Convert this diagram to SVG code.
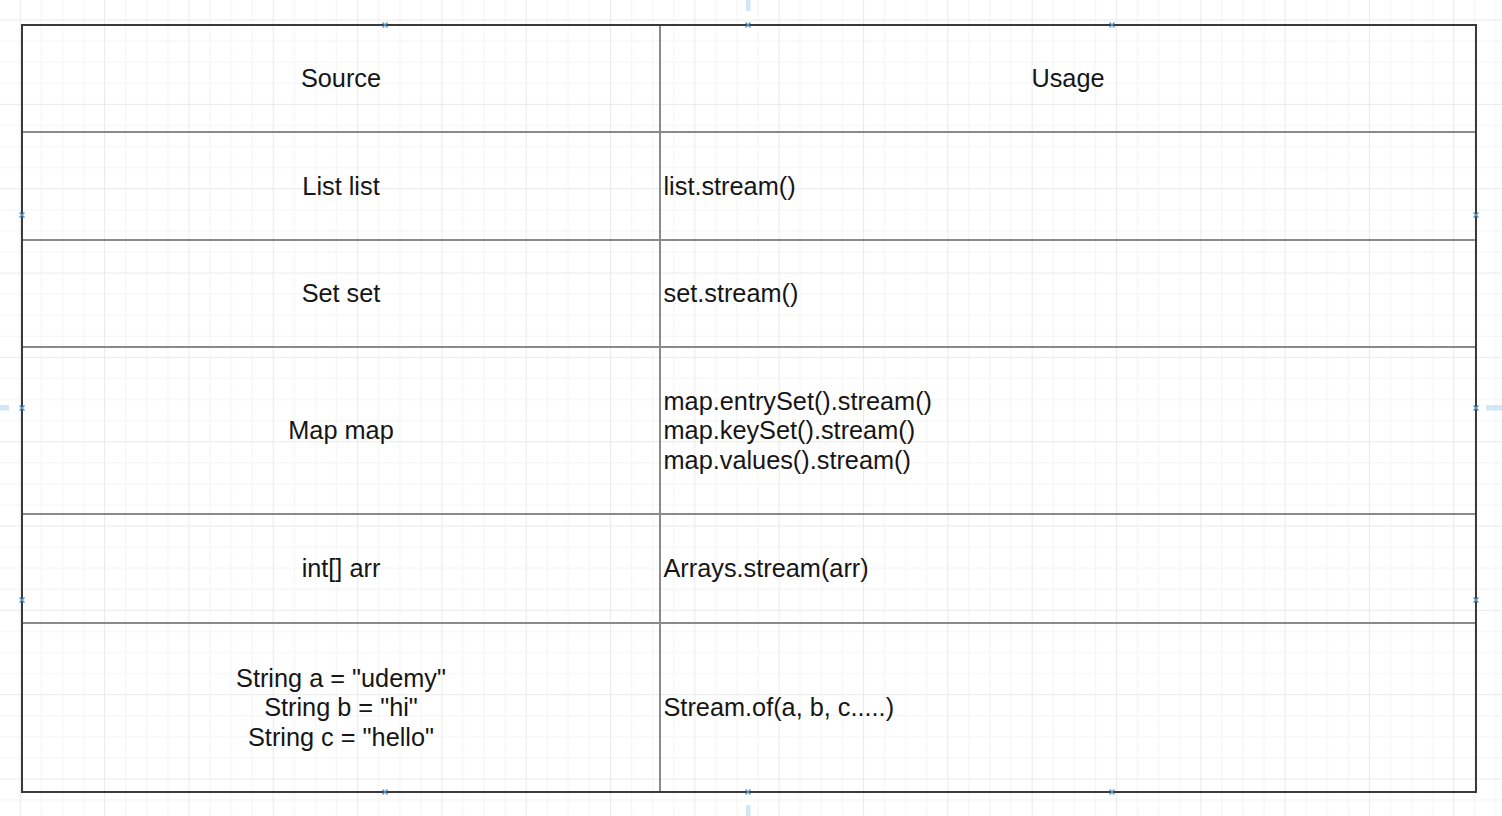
<svg xmlns="http://www.w3.org/2000/svg" width="1502" height="816" viewBox="0 0 1502 816">
  <style>
    .t { font-family: "Liberation Sans", Arial, sans-serif; font-size: 25.3px; fill: #161616; }
    .c { text-anchor: middle; }
    .inner { stroke: #8a8a8a; stroke-width: 2; fill: none; }
    .outer { stroke: #3a3a3a; stroke-width: 2; fill: none; }
    .mk { stroke: #4f93cc; stroke-width: 1.3; fill: none; }
    .guide { fill: #d3e8f6; }
  </style>
  <defs>
    <pattern id="grid" patternUnits="userSpaceOnUse" x="19.8" y="19.6" width="84.32" height="84.32">
      <rect x="0" y="0" width="84.32" height="84.32" fill="#ffffff"/>
      <g fill="#f4f4f4">
        <rect x="21.08" y="0" width="1" height="84.32"/>
        <rect x="42.16" y="0" width="1" height="84.32"/>
        <rect x="63.24" y="0" width="1" height="84.32"/>
        <rect x="0" y="21.08" width="84.32" height="1"/>
        <rect x="0" y="42.16" width="84.32" height="1"/>
        <rect x="0" y="63.24" width="84.32" height="1"/>
      </g>
      <g fill="#eaeaea">
        <rect x="0" y="0" width="1" height="84.32"/>
        <rect x="0" y="0" width="84.32" height="1"/>
      </g>
    </pattern>
  </defs>

  <rect x="0" y="0" width="1502" height="816" fill="url(#grid)"/>

  <!-- guide handles -->
  <g id="guides">
    <rect class="guide" x="746" y="0" width="4.5" height="11"/>
    <rect class="guide" x="746" y="805" width="4.5" height="11"/>
    <rect class="guide" x="0" y="405" width="9" height="5.5"/>
    <rect class="guide" x="1486" y="405" width="16" height="5.5"/>
  </g>

  <!-- table cells -->
  <g id="header-source"><text class="t c" x="341" y="87.2">Source</text></g>
  <g id="header-usage"><text class="t c" x="1068" y="87.2">Usage</text></g>

  <g id="row-list-source"><text class="t c" x="341" y="194.8">List list</text></g>
  <g id="row-list-usage"><text class="t" x="663.5" y="194.8">list.stream()</text></g>

  <g id="row-set-source"><text class="t c" x="341" y="302.2">Set set</text></g>
  <g id="row-set-usage"><text class="t" x="663.5" y="302.2">set.stream()</text></g>

  <g id="row-map-source"><text class="t c" x="341" y="439.2">Map map</text></g>
  <g id="row-map-usage">
    <text class="t" x="663.5" y="409.6">map.entrySet().stream()</text>
    <text class="t" x="663.5" y="439.3">map.keySet().stream()</text>
    <text class="t" x="663.5" y="469">map.values().stream()</text>
  </g>

  <g id="row-arr-source"><text class="t c" x="341" y="577.1">int[] arr</text></g>
  <g id="row-arr-usage"><text class="t" x="663.5" y="577.1">Arrays.stream(arr)</text></g>

  <g id="row-string-source">
    <text class="t c" x="341" y="686.7">String a = "udemy"</text>
    <text class="t c" x="341" y="716.2">String b = "hi"</text>
    <text class="t c" x="341" y="745.7">String c = "hello"</text>
  </g>
  <g id="row-string-usage"><text class="t" x="663.5" y="716">Stream.of(a, b, c.....)</text></g>

  <!-- grid lines of the table -->
  <g id="table-lines">
    <line class="inner" x1="22" y1="132" x2="1476" y2="132"/>
    <line class="inner" x1="22" y1="240" x2="1476" y2="240"/>
    <line class="inner" x1="22" y1="347" x2="1476" y2="347"/>
    <line class="inner" x1="22" y1="514" x2="1476" y2="514"/>
    <line class="inner" x1="22" y1="623" x2="1476" y2="623"/>
    <line class="inner" x1="660" y1="25" x2="660" y2="792"/>
    <rect class="outer" x="22" y="25" width="1454" height="767"/>
  </g>

  <!-- connection point markers -->
  <g id="markers">
    <path class="mk" d="M382.5 22.5l5 5M387.5 22.5l-5 5"/>
    <path class="mk" d="M745.5 22.5l5 5M750.5 22.5l-5 5"/>
    <path class="mk" d="M1109.5 22.5l5 5M1114.5 22.5l-5 5"/>
    <path class="mk" d="M382.5 789.5l5 5M387.5 789.5l-5 5"/>
    <path class="mk" d="M745.5 789.5l5 5M750.5 789.5l-5 5"/>
    <path class="mk" d="M1109.5 789.5l5 5M1114.5 789.5l-5 5"/>
    <path class="mk" d="M19.5 212.5l5 5M24.5 212.5l-5 5"/>
    <path class="mk" d="M19.5 405.5l5 5M24.5 405.5l-5 5"/>
    <path class="mk" d="M19.5 597.5l5 5M24.5 597.5l-5 5"/>
    <path class="mk" d="M1473.5 212.5l5 5M1478.5 212.5l-5 5"/>
    <path class="mk" d="M1473.5 405.5l5 5M1478.5 405.5l-5 5"/>
    <path class="mk" d="M1473.5 597.5l5 5M1478.5 597.5l-5 5"/>
  </g>

  <g id="connectors"></g>
</svg>
